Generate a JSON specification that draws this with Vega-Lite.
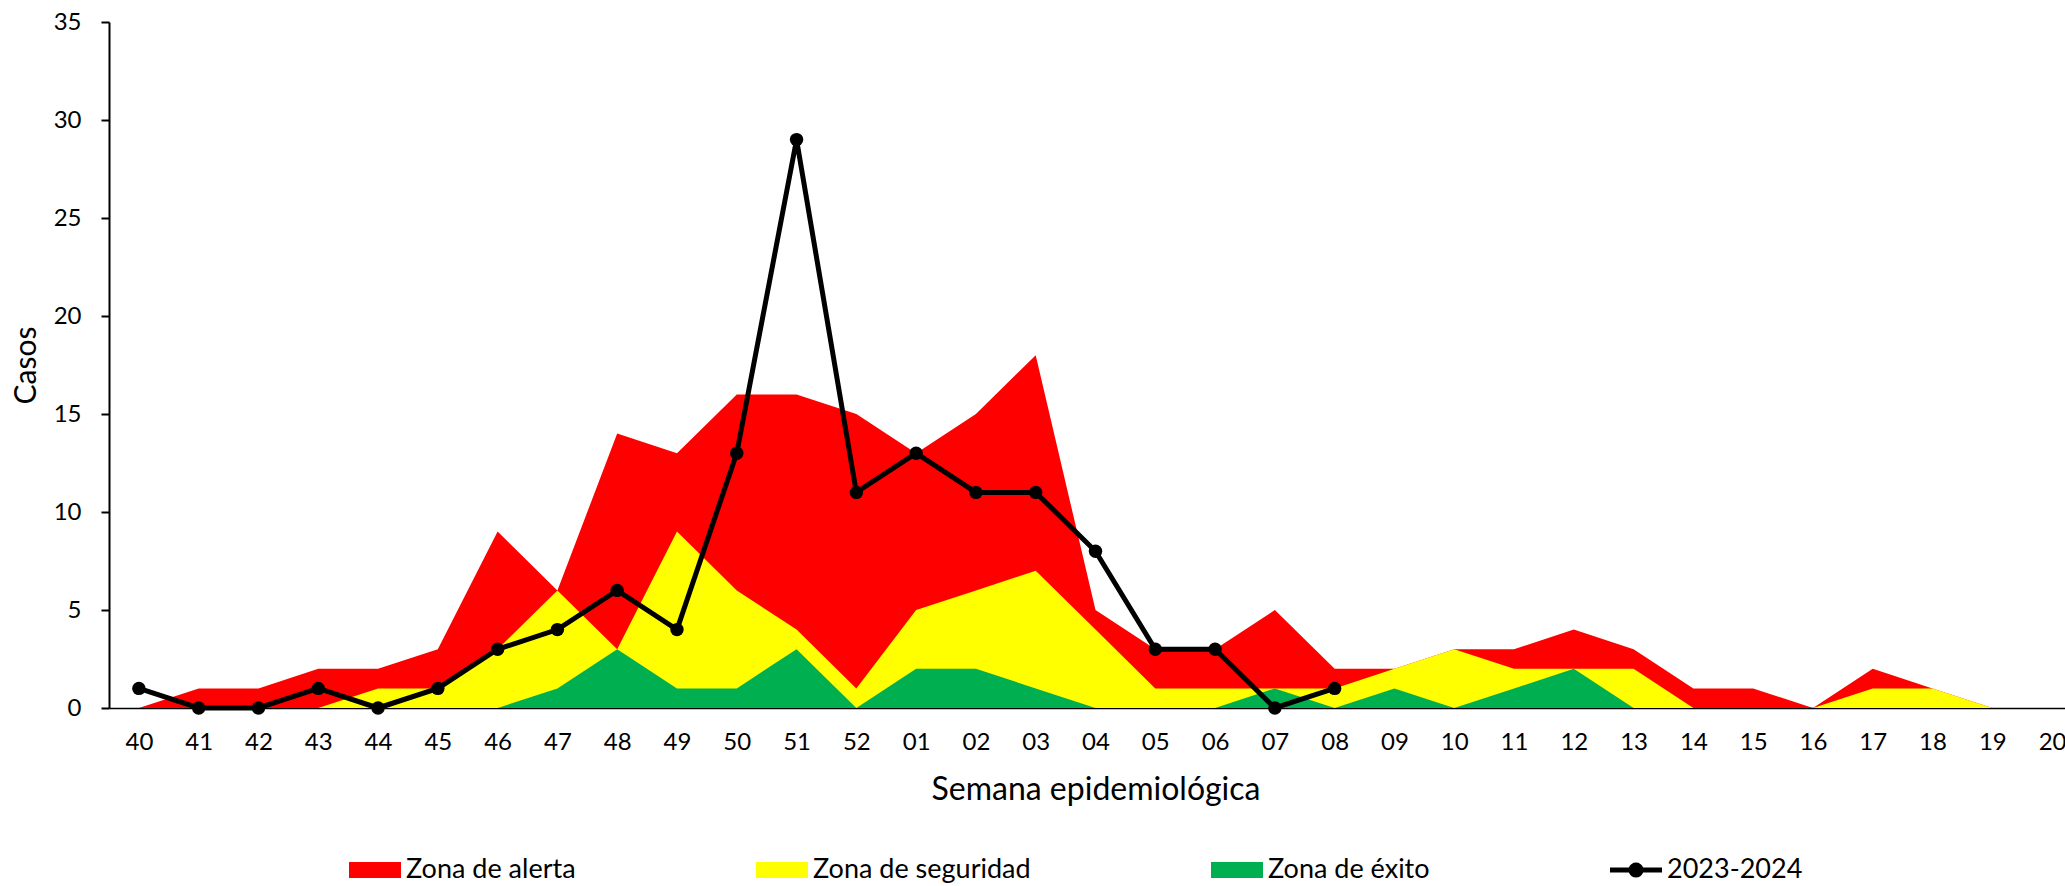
{
  "$schema": "https://vega.github.io/schema/vega-lite/v6.json",
  "width": 1956,
  "height": 686,
  "autosize": "none",
  "padding": {"left": 109, "top": 22, "right": 0, "bottom": 178},
  "background": "white",
  "config": {
    "view": {"stroke": null},
    "font": "Lato",
    "axis": {
      "labelFont": "Lato",
      "titleFont": "Lato",
      "labelColor": "#000000",
      "titleColor": "#000000",
      "titleFontWeight": "normal",
      "grid": false
    }
  },
  "data": {
    "values": [
      {"semana": "40", "serie": "Zona de alerta", "casos": 0},
      {"semana": "41", "serie": "Zona de alerta", "casos": 1},
      {"semana": "42", "serie": "Zona de alerta", "casos": 1},
      {"semana": "43", "serie": "Zona de alerta", "casos": 2},
      {"semana": "44", "serie": "Zona de alerta", "casos": 2},
      {"semana": "45", "serie": "Zona de alerta", "casos": 3},
      {"semana": "46", "serie": "Zona de alerta", "casos": 9},
      {"semana": "47", "serie": "Zona de alerta", "casos": 6},
      {"semana": "48", "serie": "Zona de alerta", "casos": 14},
      {"semana": "49", "serie": "Zona de alerta", "casos": 13},
      {"semana": "50", "serie": "Zona de alerta", "casos": 16},
      {"semana": "51", "serie": "Zona de alerta", "casos": 16},
      {"semana": "52", "serie": "Zona de alerta", "casos": 15},
      {"semana": "01", "serie": "Zona de alerta", "casos": 13},
      {"semana": "02", "serie": "Zona de alerta", "casos": 15},
      {"semana": "03", "serie": "Zona de alerta", "casos": 18},
      {"semana": "04", "serie": "Zona de alerta", "casos": 5},
      {"semana": "05", "serie": "Zona de alerta", "casos": 3},
      {"semana": "06", "serie": "Zona de alerta", "casos": 3},
      {"semana": "07", "serie": "Zona de alerta", "casos": 5},
      {"semana": "08", "serie": "Zona de alerta", "casos": 2},
      {"semana": "09", "serie": "Zona de alerta", "casos": 2},
      {"semana": "10", "serie": "Zona de alerta", "casos": 3},
      {"semana": "11", "serie": "Zona de alerta", "casos": 3},
      {"semana": "12", "serie": "Zona de alerta", "casos": 4},
      {"semana": "13", "serie": "Zona de alerta", "casos": 3},
      {"semana": "14", "serie": "Zona de alerta", "casos": 1},
      {"semana": "15", "serie": "Zona de alerta", "casos": 1},
      {"semana": "16", "serie": "Zona de alerta", "casos": 0},
      {"semana": "17", "serie": "Zona de alerta", "casos": 2},
      {"semana": "18", "serie": "Zona de alerta", "casos": 1},
      {"semana": "19", "serie": "Zona de alerta", "casos": 0},
      {"semana": "20", "serie": "Zona de alerta", "casos": 0},

      {"semana": "40", "serie": "Zona de seguridad", "casos": 0},
      {"semana": "41", "serie": "Zona de seguridad", "casos": 0},
      {"semana": "42", "serie": "Zona de seguridad", "casos": 0},
      {"semana": "43", "serie": "Zona de seguridad", "casos": 0},
      {"semana": "44", "serie": "Zona de seguridad", "casos": 1},
      {"semana": "45", "serie": "Zona de seguridad", "casos": 1},
      {"semana": "46", "serie": "Zona de seguridad", "casos": 3},
      {"semana": "47", "serie": "Zona de seguridad", "casos": 6},
      {"semana": "48", "serie": "Zona de seguridad", "casos": 3},
      {"semana": "49", "serie": "Zona de seguridad", "casos": 9},
      {"semana": "50", "serie": "Zona de seguridad", "casos": 6},
      {"semana": "51", "serie": "Zona de seguridad", "casos": 4},
      {"semana": "52", "serie": "Zona de seguridad", "casos": 1},
      {"semana": "01", "serie": "Zona de seguridad", "casos": 5},
      {"semana": "02", "serie": "Zona de seguridad", "casos": 6},
      {"semana": "03", "serie": "Zona de seguridad", "casos": 7},
      {"semana": "04", "serie": "Zona de seguridad", "casos": 4},
      {"semana": "05", "serie": "Zona de seguridad", "casos": 1},
      {"semana": "06", "serie": "Zona de seguridad", "casos": 1},
      {"semana": "07", "serie": "Zona de seguridad", "casos": 1},
      {"semana": "08", "serie": "Zona de seguridad", "casos": 1},
      {"semana": "09", "serie": "Zona de seguridad", "casos": 2},
      {"semana": "10", "serie": "Zona de seguridad", "casos": 3},
      {"semana": "11", "serie": "Zona de seguridad", "casos": 2},
      {"semana": "12", "serie": "Zona de seguridad", "casos": 2},
      {"semana": "13", "serie": "Zona de seguridad", "casos": 2},
      {"semana": "14", "serie": "Zona de seguridad", "casos": 0},
      {"semana": "15", "serie": "Zona de seguridad", "casos": 0},
      {"semana": "16", "serie": "Zona de seguridad", "casos": 0},
      {"semana": "17", "serie": "Zona de seguridad", "casos": 1},
      {"semana": "18", "serie": "Zona de seguridad", "casos": 1},
      {"semana": "19", "serie": "Zona de seguridad", "casos": 0},
      {"semana": "20", "serie": "Zona de seguridad", "casos": 0},

      {"semana": "40", "serie": "Zona de éxito", "casos": 0},
      {"semana": "41", "serie": "Zona de éxito", "casos": 0},
      {"semana": "42", "serie": "Zona de éxito", "casos": 0},
      {"semana": "43", "serie": "Zona de éxito", "casos": 0},
      {"semana": "44", "serie": "Zona de éxito", "casos": 0},
      {"semana": "45", "serie": "Zona de éxito", "casos": 0},
      {"semana": "46", "serie": "Zona de éxito", "casos": 0},
      {"semana": "47", "serie": "Zona de éxito", "casos": 1},
      {"semana": "48", "serie": "Zona de éxito", "casos": 3},
      {"semana": "49", "serie": "Zona de éxito", "casos": 1},
      {"semana": "50", "serie": "Zona de éxito", "casos": 1},
      {"semana": "51", "serie": "Zona de éxito", "casos": 3},
      {"semana": "52", "serie": "Zona de éxito", "casos": 0},
      {"semana": "01", "serie": "Zona de éxito", "casos": 2},
      {"semana": "02", "serie": "Zona de éxito", "casos": 2},
      {"semana": "03", "serie": "Zona de éxito", "casos": 1},
      {"semana": "04", "serie": "Zona de éxito", "casos": 0},
      {"semana": "05", "serie": "Zona de éxito", "casos": 0},
      {"semana": "06", "serie": "Zona de éxito", "casos": 0},
      {"semana": "07", "serie": "Zona de éxito", "casos": 1},
      {"semana": "08", "serie": "Zona de éxito", "casos": 0},
      {"semana": "09", "serie": "Zona de éxito", "casos": 1},
      {"semana": "10", "serie": "Zona de éxito", "casos": 0},
      {"semana": "11", "serie": "Zona de éxito", "casos": 1},
      {"semana": "12", "serie": "Zona de éxito", "casos": 2},
      {"semana": "13", "serie": "Zona de éxito", "casos": 0},
      {"semana": "14", "serie": "Zona de éxito", "casos": 0},
      {"semana": "15", "serie": "Zona de éxito", "casos": 0},
      {"semana": "16", "serie": "Zona de éxito", "casos": 0},
      {"semana": "17", "serie": "Zona de éxito", "casos": 0},
      {"semana": "18", "serie": "Zona de éxito", "casos": 0},
      {"semana": "19", "serie": "Zona de éxito", "casos": 0},
      {"semana": "20", "serie": "Zona de éxito", "casos": 0},

      {"semana": "40", "serie": "2023-2024", "casos": 1},
      {"semana": "41", "serie": "2023-2024", "casos": 0},
      {"semana": "42", "serie": "2023-2024", "casos": 0},
      {"semana": "43", "serie": "2023-2024", "casos": 1},
      {"semana": "44", "serie": "2023-2024", "casos": 0},
      {"semana": "45", "serie": "2023-2024", "casos": 1},
      {"semana": "46", "serie": "2023-2024", "casos": 3},
      {"semana": "47", "serie": "2023-2024", "casos": 4},
      {"semana": "48", "serie": "2023-2024", "casos": 6},
      {"semana": "49", "serie": "2023-2024", "casos": 4},
      {"semana": "50", "serie": "2023-2024", "casos": 13},
      {"semana": "51", "serie": "2023-2024", "casos": 29},
      {"semana": "52", "serie": "2023-2024", "casos": 11},
      {"semana": "01", "serie": "2023-2024", "casos": 13},
      {"semana": "02", "serie": "2023-2024", "casos": 11},
      {"semana": "03", "serie": "2023-2024", "casos": 11},
      {"semana": "04", "serie": "2023-2024", "casos": 8},
      {"semana": "05", "serie": "2023-2024", "casos": 3},
      {"semana": "06", "serie": "2023-2024", "casos": 3},
      {"semana": "07", "serie": "2023-2024", "casos": 0},
      {"semana": "08", "serie": "2023-2024", "casos": 1}
    ]
  },
  "encoding": {
    "x": {
      "field": "semana",
      "type": "ordinal",
      "scale": {
        "type": "point",
        "domain": ["40","41","42","43","44","45","46","47","48","49","50","51","52","01","02","03","04","05","06","07","08","09","10","11","12","13","14","15","16","17","18","19","20"],
        "range": [0, 1973],
        "padding": 0.5
      },
      "axis": {
        "title": "Semana epidemiológica",
        "labelAngle": 0,
        "labelFontSize": 24,
        "labelPadding": 22,
        "ticks": false,
        "domainColor": "#000000",
        "domainWidth": 1.5,
        "titleFontSize": 32,
        "titlePadding": 20
      }
    },
    "y": {
      "field": "casos",
      "type": "quantitative",
      "stack": null,
      "scale": {"domain": [0, 35], "nice": false},
      "axis": {
        "title": "Casos",
        "values": [0, 5, 10, 15, 20, 25, 30, 35],
        "labelFontSize": 24,
        "labelPadding": 20,
        "tickSize": 8,
        "tickWidth": 2,
        "tickColor": "#000000",
        "domainColor": "#000000",
        "domainWidth": 2,
        "titleFontSize": 30,
        "titlePadding": 12
      }
    },
    "color": {
      "field": "serie",
      "type": "nominal",
      "scale": {
        "domain": ["Zona de alerta", "Zona de seguridad", "Zona de éxito", "2023-2024"],
        "range": ["#FF0000", "#FFFF00", "#00B050", "#000000"]
      },
      "legend": {
        "orient": "none",
        "legendX": 240,
        "legendY": 822,
        "direction": "horizontal",
        "title": null,
        "symbolSize": 2704,
        "labelFontSize": 27,
        "labelFont": "Lato",
        "labelColor": "#000000",
        "labelOffset": 5,
        "columnPadding": 180,
        "labelLimit": 400,
        "encode": {
          "symbols": {
            "update": {
              "shape": {"signal": "datum.value === '2023-2024' ? 'M-1,-0.096L-0.274,-0.096A0.29,0.29,0,0,1,0.274,-0.096L1,-0.096L1,0.096L0.274,0.096A0.29,0.29,0,0,1,-0.274,0.096L-1,0.096Z' : 'M-1,-0.31L1,-0.31L1,0.31L-1,0.31Z'"},
              "fill": {"scale": "color", "field": "value"},
              "fillOpacity": {"value": 1},
              "opacity": {"value": 1},
              "strokeWidth": {"value": 0}
            }
          }
        }
      }
    }
  },
  "layer": [
    {
      "transform": [{"filter": "datum.serie === 'Zona de alerta'"}],
      "mark": {"type": "area", "opacity": 1}
    },
    {
      "transform": [{"filter": "datum.serie === 'Zona de seguridad'"}],
      "mark": {"type": "area", "opacity": 1}
    },
    {
      "transform": [{"filter": "datum.serie === 'Zona de éxito'"}],
      "mark": {"type": "area", "opacity": 1}
    },
    {
      "transform": [{"filter": "datum.serie === '2023-2024'"}],
      "mark": {"type": "line", "strokeWidth": 5, "point": {"filled": true, "size": 180}}
    }
  ]
}
